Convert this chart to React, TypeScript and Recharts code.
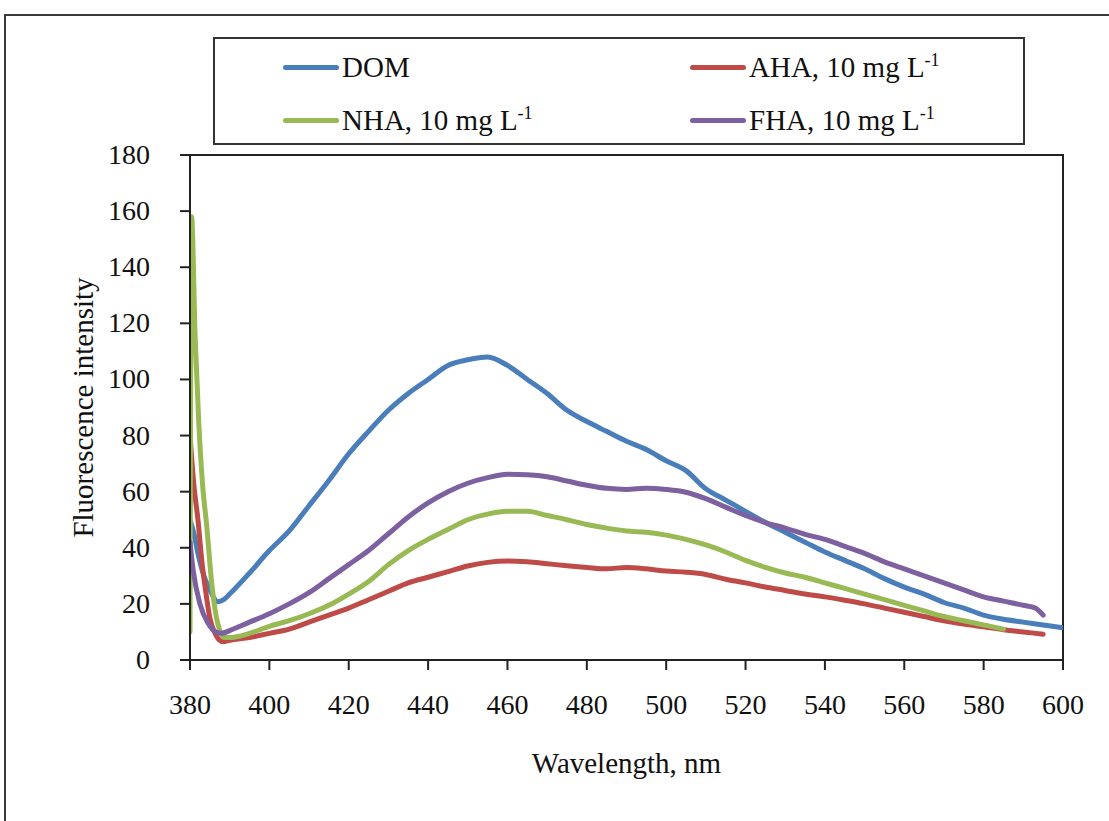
import { LineChart, Line, XAxis, YAxis, ReferenceArea, Label } from 'recharts'

const SERIF = '"Liberation Serif", "Times New Roman", serif'

const xTicks = [380, 400, 420, 440, 460, 480, 500, 520, 540, 560, 580, 600]
const yTicks = [0, 20, 40, 60, 80, 100, 120, 140, 160, 180]

const domNm = [380, 381, 382, 383.5, 385, 387, 388.5, 390, 395, 400, 405, 410, 415, 420, 425, 430, 435, 440, 445, 450, 455, 460, 465, 470, 475, 480, 485, 490, 495, 500, 505, 510, 515, 520, 525, 530, 535, 540, 545, 550, 555, 560, 565, 570, 575, 580, 585, 590, 595, 600]
const domVal = [50, 45, 38, 30, 25, 20.8, 21.5, 23.5, 31, 39, 46, 55, 64, 73.5, 81.5, 89, 95, 100, 105, 107, 108, 105, 100, 95, 89, 85, 81.5, 78, 75, 71, 67.5, 61, 57, 53, 49, 45.5, 42, 38.5, 35.5, 32.5, 29, 26, 23.5, 20.5, 18.5, 16, 14.5, 13.5, 12.5, 11.5]

const ahaNm = [380, 381, 382, 383, 384, 385, 386.5, 388.3, 390, 395, 400, 405, 410, 415, 420, 425, 430, 435, 440, 445, 450, 455, 460, 465, 470, 475, 480, 485, 490, 495, 500, 505, 510, 515, 520, 525, 530, 535, 540, 545, 550, 555, 560, 565, 570, 575, 580, 585, 590, 595]
const ahaVal = [80, 62, 50, 35, 24, 15, 9, 6.5, 7, 8, 9.5, 11, 13.5, 16, 18.5, 21.5, 24.5, 27.5, 29.5, 31.5, 33.5, 34.8, 35.3, 35, 34.3, 33.6, 33, 32.5, 33, 32.5, 31.7, 31.3, 30.5, 28.8, 27.5, 26, 24.8, 23.5, 22.5, 21.3, 20, 18.5, 17, 15.5, 14, 12.8, 11.8, 10.8, 10, 9.2]

const nhaNm = [380, 380.4, 381.3, 382.2, 383.2, 384.2, 385.5, 387, 388.8, 390, 395, 400, 405, 410, 415, 420, 425, 430, 435, 440, 445, 450, 455, 460, 465, 470, 475, 480, 485, 490, 495, 500, 505, 510, 515, 520, 525, 530, 535, 540, 545, 550, 555, 560, 565, 570, 575, 580, 585]
const nhaVal = [10, 158, 115, 85, 62, 48, 27, 13, 8, 8, 9.5, 12, 14, 16.5, 19.5, 23.5, 28, 34, 39, 43, 46.5, 50, 52, 53, 53, 51.5, 50, 48.3, 47, 46, 45.5, 44.5, 43, 41, 38.5, 35.5, 33, 31, 29.5, 27.5, 25.5, 23.5, 21.5, 19.5, 17.5, 15.5, 14, 12.5, 11]

const fhaNm = [380, 380.8, 382.5, 384.6, 386.5, 388, 390, 395, 400, 405, 410, 415, 420, 425, 430, 435, 440, 445, 450, 455, 460, 465, 470, 475, 480, 485, 490, 495, 500, 505, 510, 515, 520, 525, 530, 535, 540, 545, 550, 555, 560, 565, 570, 575, 580, 585, 590, 593, 595]
const fhaVal = [42, 32, 20, 13, 10, 9.5, 10.5, 13.5, 16.5, 20, 24, 29, 34, 39, 45, 51, 56, 60, 63, 65, 66.2, 66, 65.3, 63.8, 62.3, 61.2, 60.8, 61.2, 60.8, 59.8, 57.5, 54.5, 51.5, 49, 47, 44.8, 43, 40.5, 38, 35, 32.5, 30, 27.5, 25, 22.5, 21, 19.5, 18.5, 16]

const toPoints = (nm: number[], val: number[]) => nm.map((x, i) => ({ nm: x, v: val[i] }))

const series = [
  { key: 'dom', label: 'DOM', unit: false, color: '#4a7ebb', data: toPoints(domNm, domVal) },
  { key: 'aha', label: 'AHA, 10 mg L', unit: true, color: '#be4b48', data: toPoints(ahaNm, ahaVal) },
  { key: 'nha', label: 'NHA, 10 mg L', unit: true, color: '#98b954', data: toPoints(nhaNm, nhaVal) },
  { key: 'fha', label: 'FHA, 10 mg L', unit: true, color: '#7d60a0', data: toPoints(fhaNm, fhaVal) },
]

const XTick = ({ x, y, payload }: any) => (
  <text x={x} y={y + 44} textAnchor="middle" fontSize={28} fontFamily={SERIF} fill="#111">
    {payload.value}
  </text>
)

const YTick = ({ x, y, payload }: any) => (
  <text x={x - 30} y={y + 9} textAnchor="end" fontSize={28} fontFamily={SERIF} fill="#111">
    {payload.value}
  </text>
)

const XTitle = ({ viewBox }: any) => (
  <text
    x={viewBox.x + viewBox.width / 2}
    y={viewBox.y + viewBox.height + 43}
    textAnchor="middle"
    dominantBaseline="central"
    fontSize={29}
    fontFamily={SERIF}
    fill="#111"
  >
    Wavelength, nm
  </text>
)

const YTitle = ({ viewBox }: any) => {
  const cx = viewBox.x - 27
  const cy = viewBox.y + viewBox.height / 2
  return (
    <text
      x={cx}
      y={cy}
      transform={`rotate(-90 ${cx} ${cy})`}
      textAnchor="middle"
      dominantBaseline="central"
      fontSize={29}
      fontFamily={SERIF}
      fill="#111"
    >
      Fluorescence intensity
    </text>
  )
}

function LegendItem({ s, left, top }: { s: (typeof series)[number]; left: number; top: number }) {
  return (
    <div style={{ position: 'absolute', left, top, display: 'flex', alignItems: 'center', height: 34 }}>
      <div style={{ width: 56, height: 5, borderRadius: 3, background: s.color }} />
      <span style={{ fontFamily: SERIF, fontSize: 29, color: '#111', marginLeft: 3, whiteSpace: 'nowrap' }}>
        {s.label}
        {s.unit && <sup style={{ fontSize: 18 }}>-1</sup>}
      </span>
    </div>
  )
}

export default function App() {
  return (
    <div style={{ position: 'absolute', left: 0, top: 0, width: 1109, height: 821, overflow: 'hidden', background: '#fff' }}>
      <div style={{ position: 'absolute', left: 4, top: 14, width: 1200, height: 900, border: '2px solid #3a3a3a' }} />
      <div style={{ position: 'absolute', left: 0, top: 0 }}>
        <LineChart width={1109} height={821} margin={{ top: 155, right: 46, bottom: 101, left: 110 }}>
          <XAxis
            type="number"
            dataKey="nm"
            domain={[380, 600]}
            ticks={xTicks}
            height={60}
            tickSize={10}
            tickMargin={0}
            tick={<XTick />}
            axisLine={{ stroke: '#222', strokeWidth: 2 }}
            tickLine={{ stroke: '#222', strokeWidth: 2 }}
            allowDataOverflow
          >
            <Label content={<XTitle />} />
          </XAxis>
          <YAxis
            type="number"
            domain={[0, 180]}
            ticks={yTicks}
            width={80}
            tickSize={10}
            tickMargin={0}
            tick={<YTick />}
            axisLine={{ stroke: '#222', strokeWidth: 2 }}
            tickLine={{ stroke: '#222', strokeWidth: 2 }}
            allowDataOverflow
          >
            <Label content={<YTitle />} />
          </YAxis>
          <ReferenceArea x1={380} x2={600} y1={0} y2={180} fill="none" stroke="#222" strokeWidth={2} />
          {series.map((s) => (
            <Line
              key={s.key}
              data={s.data}
              dataKey="v"
              type="monotone"
              stroke={s.color}
              strokeWidth={5}
              strokeLinecap="round"
              strokeLinejoin="round"
              dot={false}
              isAnimationActive={false}
            />
          ))}
        </LineChart>
      </div>
      <div style={{ position: 'absolute', left: 213, top: 37, width: 808, height: 104, border: '2px solid #333', background: '#fff' }} />
      <LegendItem s={series[0]} left={283} top={50} />
      <LegendItem s={series[2]} left={283} top={103} />
      <LegendItem s={series[1]} left={690} top={50} />
      <LegendItem s={series[3]} left={690} top={103} />
    </div>
  )
}
